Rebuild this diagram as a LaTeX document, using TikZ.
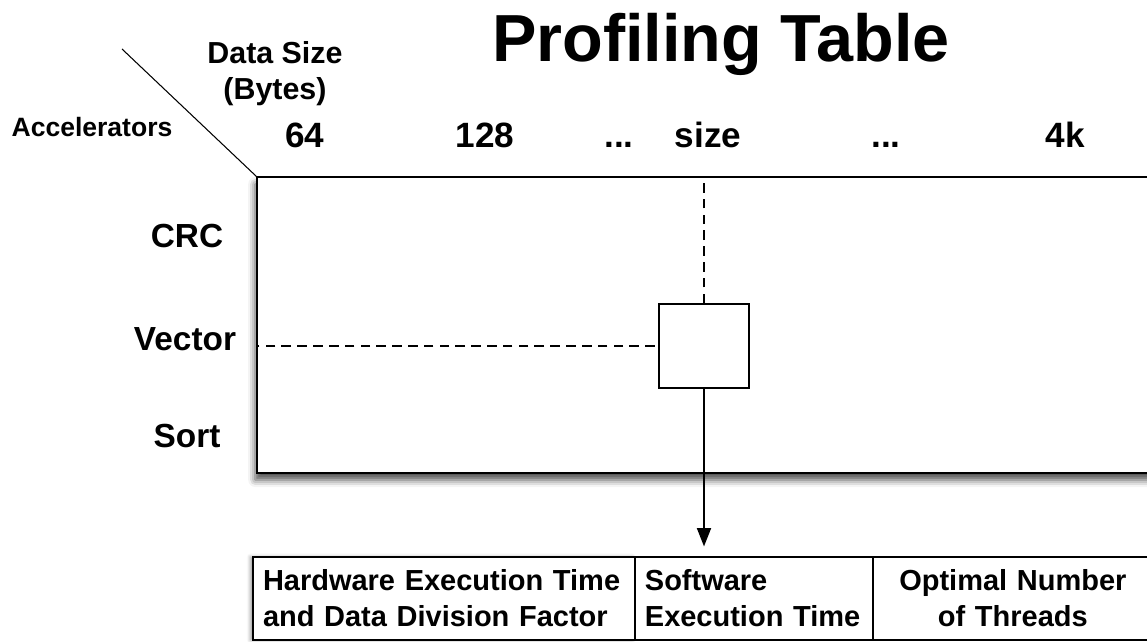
\documentclass[tikz,border=0pt]{standalone}
\usepackage{fontspec}
\setmainfont{Liberation Sans}
\usetikzlibrary{arrows.meta,positioning,shadows.blur}

\begin{document}
\begin{tikzpicture}[x=0.02cm, y=-0.02cm,
    shade/.style={blur shadow={shadow xshift=-1pt, shadow yshift=-4pt,
                  shadow blur radius=4pt, shadow opacity=70}},
    board/.style={rectangle, draw=black, line width=1.1pt, fill=white,
                  outer sep=0pt, inner sep=0pt, shade},
    cell/.style={rectangle, draw=black, line width=1.1pt, fill=white,
                 outer sep=0pt, inner ysep=0pt, inner xsep=0.2cm,
                 minimum height=1.66cm, align=left,
                 font=\bfseries\fontsize{16.5}{20.4}\selectfont},
    collbl/.style={anchor=base, inner sep=0pt,
                   font=\bfseries\fontsize{20}{24}\selectfont},
    rowlbl/.style={anchor=base, inner sep=0pt,
                   font=\bfseries\fontsize{19}{23}\selectfont},
    guide/.style={line width=0.8pt, dash pattern=on 5.5pt off 3.5pt},
    arr/.style={-{Triangle[length=10.5pt, width=8pt]}, line width=1pt},
]
\useasboundingbox (0,0) rectangle (1147,642);

% title and axis labels
\node[anchor=base, inner sep=0pt, font=\bfseries\fontsize{37.9}{44}\selectfont]
    (title) at (721,62) {Profiling Table};
\node[anchor=base, inner sep=0pt, align=center,
      font=\bfseries\fontsize{17.3}{21}\selectfont]
    (dsize) at (275,100) {Data Size\\(Bytes)};
\node[anchor=base, inner sep=0pt, font=\bfseries\fontsize{15.1}{18}\selectfont]
    (accel) at (92,137) {Accelerators};

% profiling table
\node[board, anchor=north west, minimum width=18.16cm, minimum height=5.92cm]
    (ptab) at (257,177) {};
\coordinate (dg) at (122,49);
\draw[line width=0.6pt] (dg) -- (ptab.north west);

% data sizes
\node[collbl] (c64) at (305,148) {64};
\node[collbl] (c128) at (485,148) {128};
\node[collbl] (cdots1) at (619,148) {...};
\node[collbl] (csize) at (708,148) {size};
\node[collbl] (cdots2) at (886,148) {...};
\node[collbl] (c4k) at (1065,148) {4k};

% accelerators
\node[rowlbl] (rcrc) at (187,248) {CRC};
\node[rowlbl] (rvec) at (185,350) {Vector};
\node[rowlbl] (rsort) at (187,447) {Sort};

% selected entry
\node[rectangle, draw=black, line width=0.8pt, fill=white,
      minimum width=1.8cm, minimum height=1.68cm, inner sep=0pt]
    (entry) at (704,346) {};
\draw[guide] (entry.north) -- (entry.north |- ptab.north);
\draw[guide, shorten <=2pt] (entry.west) -- (ptab.west |- entry.west);

% entry record
\node[cell, blur shadow={shadow xshift=-1.5pt, shadow yshift=0pt,
      shadow blur radius=2pt, shadow opacity=40},
      anchor=north west, text width=7.24cm] (hw) at (253,557)
    {Hardware Execution Time\\and Data Division Factor};
\node[cell, text width=4.36cm, right=0pt of hw] (sw)
    {Software\\Execution Time};
\node[cell, text width=5.2cm, align=center, right=0pt of sw] (thr)
    {Optimal Number\\of Threads};

\draw[arr, shorten >=6pt] (entry.south) -- (entry.south |- hw.north);

\end{tikzpicture}
\end{document}
